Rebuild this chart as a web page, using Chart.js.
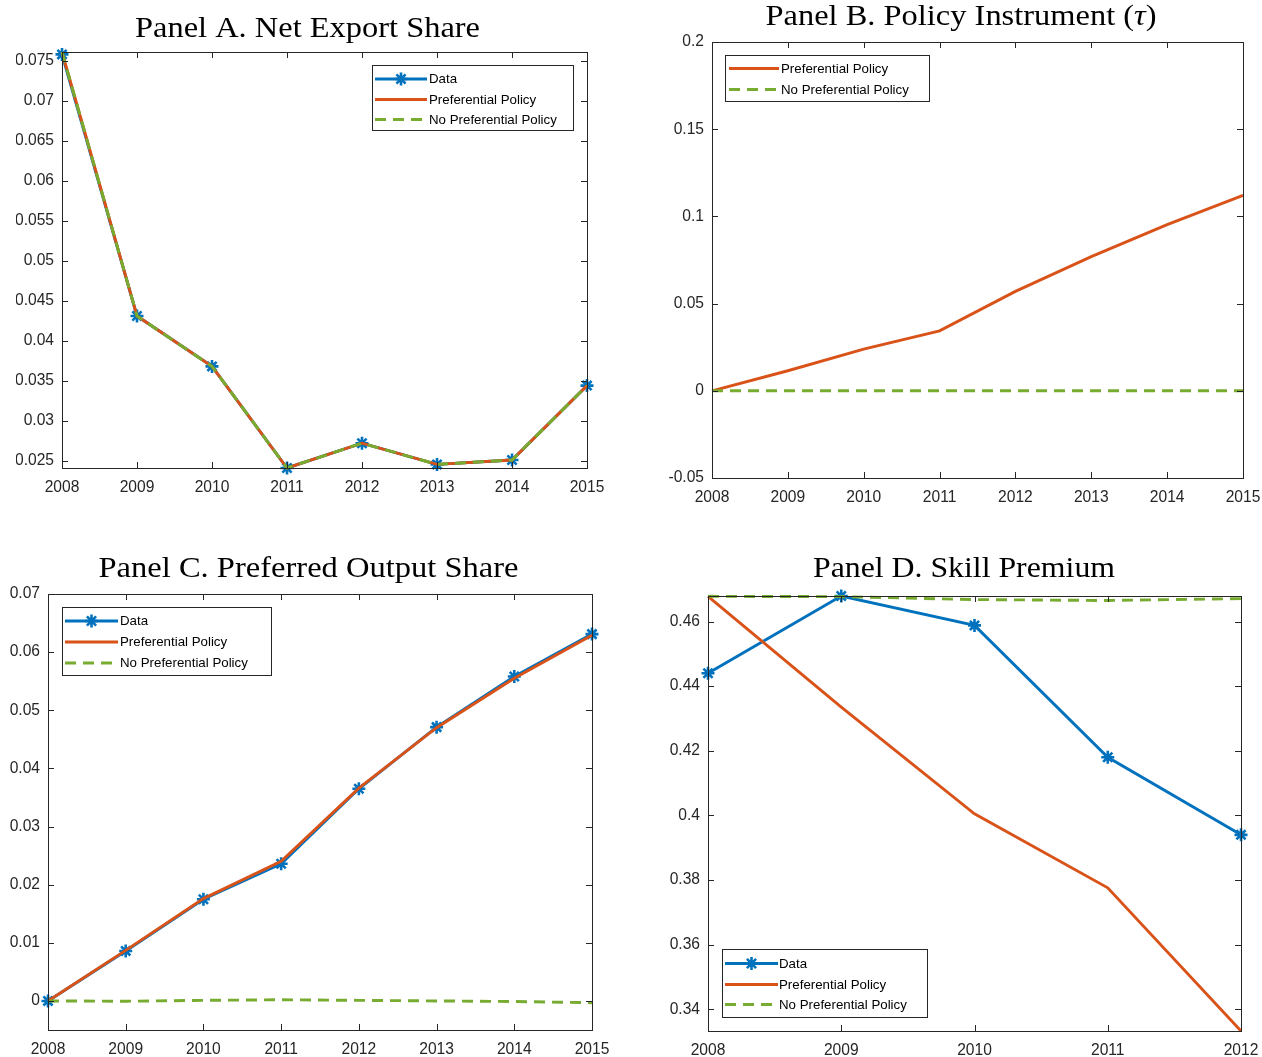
<!DOCTYPE html>
<html>
<head>
<meta charset="utf-8">
<script src="https://cdn.jsdelivr.net/npm/chart.js@4.4.1/dist/chart.umd.min.js"></script>
<style>
  html, body { margin: 0; padding: 0; background: #fff; }
  body { width: 1262px; height: 1057px; position: relative; overflow: hidden; }
  .panel { position: absolute; }
  .panel canvas { display: block; }
</style>
</head>
<body>
<div class="panel" style="left:0px;top:0px;"><canvas id="panelA" width="620" height="520"></canvas></div>
<div class="panel" style="left:640px;top:0px;"><canvas id="panelB" width="622" height="520"></canvas></div>
<div class="panel" style="left:0px;top:530px;"><canvas id="panelC" width="620" height="527"></canvas></div>
<div class="panel" style="left:640px;top:530px;"><canvas id="panelD" width="622" height="527"></canvas></div>

<script>
// ---- Years on the horizontal axes ----
const yearsLong = ['2008', '2009', '2010', '2011', '2012', '2013', '2014', '2015'];
const yearsShort = ['2008', '2009', '2010', '2011', '2012'];

// ---- Panel A: net export share ----
const exportData   = [0.0758, 0.0431, 0.0368, 0.0241, 0.0272, 0.02455, 0.0251, 0.0344];
const exportPref   = [0.0761, 0.0431, 0.0368, 0.0241, 0.0272, 0.02455, 0.0251, 0.0344];
const exportNoPref = [0.0761, 0.0431, 0.0368, 0.0241, 0.0272, 0.02455, 0.0251, 0.0344];
const exportTicks  = [0.025, 0.03, 0.035, 0.04, 0.045, 0.05, 0.055, 0.06, 0.065, 0.07, 0.075];
const exportRange  = [0.0241, 0.0761];

// ---- Panel B: policy instrument tau ----
const tauPref   = [0, 0.0115, 0.0239, 0.0344, 0.0570, 0.0769, 0.0953, 0.1120];
const tauNoPref = [0, 0, 0, 0, 0, 0, 0, 0];
const tauTicks  = [-0.05, 0, 0.05, 0.1, 0.15, 0.2];
const tauRange  = [-0.05, 0.2];

// ---- Panel C: preferred output share ----
const outputData   = [0, 0.0086, 0.0175, 0.0236, 0.0365, 0.0471, 0.0558, 0.0631];
const outputPref   = [0, 0.0087, 0.0176, 0.0240, 0.0366, 0.0470, 0.0555, 0.0629];
const outputNoPref = [0, -0.00005, 0.0001, 0.0002, 0.0001, 0.0, -0.0001, -0.0003];
const outputTicks  = [0, 0.01, 0.02, 0.03, 0.04, 0.05, 0.06, 0.07];
const outputRange  = [-0.005, 0.07];

// ---- Panel D: skill premium ----
const skillData   = [0.4440, 0.4679, 0.4588, 0.4180, 0.3940];
const skillPref   = [0.4678, 0.4335, 0.4005, 0.3776, 0.3333];
const skillNoPref = [0.4678, 0.4677, 0.4668, 0.4665, 0.4671];
const skillTicks  = [0.34, 0.36, 0.38, 0.4, 0.42, 0.44, 0.46];
const skillRange  = [0.3333, 0.4679];

// ---- Styling ----
const BLUE = '#0072BD';
const ORANGE = '#D95319';
const GREEN = '#77AC30';
const AXIS = '#262626';
const LINE_W = 2.9;
const DASH = [11, 7];
const TICK_FONT = { family: '"Liberation Sans", Arial, sans-serif', size: 15.6 };
const LEGEND_FONT = '13.3px "Liberation Sans", Arial, sans-serif';
const TITLE_FONT = '30px "Liberation Serif", "Times New Roman", serif';
const TITLE_ITALIC = 'italic 30px "Liberation Serif", "Times New Roman", serif';

const fmt = v => String(parseFloat(Number(v).toFixed(5)));

// Box, inward tick marks, legend and title drawn on top of the plot
const decoPlugin = {
  id: 'panelDeco',
  afterDraw(chart, args, opts) {
    const ctx = chart.ctx;
    const a = chart.chartArea;
    const xs = chart.scales.x, ys = chart.scales.y;
    const tl = 6;
    ctx.save();
    ctx.strokeStyle = AXIS;
    ctx.lineWidth = 1;
    ctx.setLineDash([]);
    ctx.beginPath();
    ys.ticks.forEach(t => {
      const py = Math.round(ys.getPixelForValue(t.value)) + 0.5;
      ctx.moveTo(a.left, py); ctx.lineTo(a.left + tl, py);
      ctx.moveTo(a.right, py); ctx.lineTo(a.right - tl, py);
    });
    xs.ticks.forEach((t, i) => {
      const px = Math.round(xs.getPixelForTick(i)) + 0.5;
      ctx.moveTo(px, a.bottom); ctx.lineTo(px, a.bottom - tl);
      ctx.moveTo(px, a.top); ctx.lineTo(px, a.top + tl);
    });
    ctx.stroke();
    ctx.strokeRect(Math.round(a.left) + 0.5, Math.round(a.top) + 0.5,
                   Math.round(a.right - a.left), Math.round(a.bottom - a.top));

    // legend
    const lg = opts.legend;
    ctx.fillStyle = '#fff';
    ctx.fillRect(lg.x, lg.y, lg.w, lg.h);
    ctx.strokeStyle = AXIS;
    ctx.lineWidth = 1;
    ctx.strokeRect(lg.x + 0.5, lg.y + 0.5, lg.w, lg.h);
    chart.data.datasets.forEach((ds, i) => {
      const ry = lg.rows[i];
      ctx.save();
      ctx.strokeStyle = ds.borderColor;
      ctx.lineWidth = ds.borderWidth;
      ctx.setLineDash(ds.borderDash || []);
      ctx.beginPath();
      ctx.moveTo(lg.x0, ry); ctx.lineTo(lg.x1, ry);
      ctx.stroke();
      ctx.setLineDash([]);
      if (ds.pointRadius > 0) {
        ctx.strokeStyle = ds.pointBorderColor;
        ctx.fillStyle = ds.pointBorderColor;
        ctx.lineWidth = ds.pointBorderWidth;
        Chart.helpers.drawPoint(ctx, { pointStyle: ds.pointStyle, radius: ds.pointRadius, borderWidth: ds.pointBorderWidth },
          (lg.x0 + lg.x1) / 2, ry);
      }
      ctx.restore();
      ctx.fillStyle = '#000';
      ctx.font = LEGEND_FONT;
      ctx.textAlign = 'left';
      ctx.textBaseline = 'middle';
      ctx.fillText(ds.label, lg.tx, ry + 0.5);
    });

    // title, with optional italic part, stretched to its set width
    const tt = opts.title;
    ctx.fillStyle = '#000';
    ctx.textBaseline = 'alphabetic';
    ctx.textAlign = 'left';
    let total = 0;
    tt.parts.forEach(p => { ctx.font = p.italic ? TITLE_ITALIC : TITLE_FONT; total += ctx.measureText(p.text).width; });
    const sx = tt.width / total;
    ctx.translate(tt.cx - tt.width / 2, tt.base);
    ctx.scale(sx, 1);
    let x = 0;
    tt.parts.forEach(p => {
      ctx.font = p.italic ? TITLE_ITALIC : TITLE_FONT;
      ctx.fillText(p.text, x, 0);
      x += ctx.measureText(p.text).width;
    });
    ctx.restore();
  }
};

function buildPanel(canvasId, cfg) {
  const datasets = [];
  if (cfg.data) {
    datasets.push({
      label: 'Data', data: cfg.data, borderColor: BLUE, backgroundColor: BLUE,
      borderWidth: LINE_W, pointStyle: 'star', pointRadius: 6.5, pointBorderWidth: 2.6,
      pointBorderColor: BLUE, pointBackgroundColor: BLUE, order: 2, clip: false
    });
  }
  datasets.push({
    label: 'Preferential Policy', data: cfg.pref, borderColor: ORANGE,
    borderWidth: LINE_W, pointRadius: 0, order: 1, clip: false
  });
  datasets.push({
    label: 'No Preferential Policy', data: cfg.nopref, borderColor: GREEN,
    borderWidth: LINE_W, borderDash: DASH, pointRadius: 0, order: 0, clip: false
  });

  new Chart(document.getElementById(canvasId), {
    type: 'line',
    data: { labels: cfg.labels, datasets },
    options: {
      responsive: false,
      animation: false,
      devicePixelRatio: 1,
      layout: { padding: cfg.pad },
      elements: { line: { tension: 0 } },
      plugins: {
        legend: { display: false },
        title: { display: false },
        tooltip: { enabled: false },
        panelDeco: { legend: cfg.legend, title: cfg.title }
      },
      scales: {
        x: {
          type: 'category', offset: false,
          grid: { display: false, drawTicks: false },
          border: { display: false },
          ticks: { color: AXIS, font: TICK_FONT, padding: 10, maxRotation: 0, autoSkip: false },
          afterFit(s) { s.height = 26; s.paddingLeft = 0; s.paddingRight = 0; }
        },
        y: {
          type: 'linear', min: cfg.range[0], max: cfg.range[1], bounds: 'data',
          grid: { display: false, drawTicks: false },
          border: { display: false },
          ticks: { color: AXIS, font: TICK_FONT, padding: 8, callback: v => fmt(v) },
          afterBuildTicks(s) { s.ticks = cfg.ticks.map(v => ({ value: v })); },
          afterFit(s) { s.width = 46; s.paddingTop = 0; s.paddingBottom = 0; }
        }
      }
    },
    plugins: [decoPlugin]
  });
}

buildPanel('panelA', {
  labels: yearsLong, data: exportData, pref: exportPref, nopref: exportNoPref,
  ticks: exportTicks, range: exportRange,
  pad: { left: 16, top: 52, right: 33, bottom: 26 },
  legend: { x: 372, y: 65, w: 201, h: 65, rows: [79, 99.5, 119.5], x0: 375, x1: 427, tx: 429 },
  title: { cx: 307.5, base: 37, width: 345, parts: [{ text: 'Panel A. Net Export Share' }] }
});

buildPanel('panelB', {
  labels: yearsLong, pref: tauPref, nopref: tauNoPref,
  ticks: tauTicks, range: tauRange,
  pad: { left: 26, top: 42, right: 19, bottom: 16 },
  legend: { x: 85, y: 55, w: 204, h: 46, rows: [68.5, 89.5], x0: 89, x1: 139, tx: 141 },
  title: { cx: 321, base: 25, width: 391, parts: [{ text: 'Panel B. Policy Instrument (' }, { text: 'τ', italic: true }, { text: ')' }] }
});

buildPanel('panelC', {
  labels: yearsLong, data: outputData, pref: outputPref, nopref: outputNoPref,
  ticks: outputTicks, range: outputRange,
  pad: { left: 2, top: 64, right: 28, bottom: 1 },
  legend: { x: 62, y: 77, w: 209, h: 68, rows: [91, 112, 133], x0: 65, x1: 118, tx: 120 },
  title: { cx: 308.5, base: 47, width: 420, parts: [{ text: 'Panel C. Preferred Output Share' }] }
});

buildPanel('panelD', {
  labels: yearsShort, data: skillData, pref: skillPref, nopref: skillNoPref,
  ticks: skillTicks, range: skillRange,
  pad: { left: 22, top: 66, right: 21, bottom: 0 },
  legend: { x: 82, y: 419, w: 205, h: 68, rows: [433.5, 454.5, 474.5], x0: 85, x1: 138, tx: 139 },
  title: { cx: 324, base: 47, width: 302, parts: [{ text: 'Panel D. Skill Premium' }] }
});
</script>
</body>
</html>
